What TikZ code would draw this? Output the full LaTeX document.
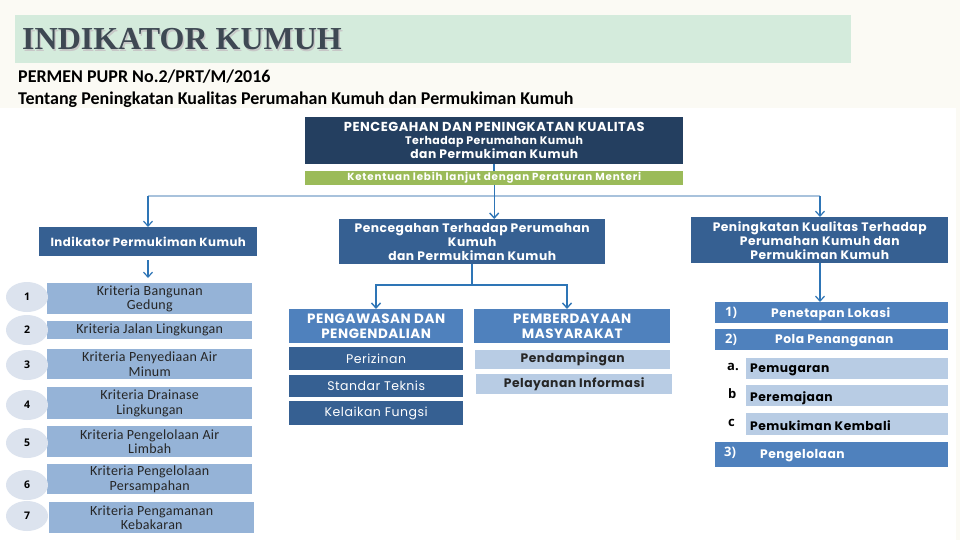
\documentclass[tikz,border=0pt]{standalone}
\usepackage{fontspec}
\usetikzlibrary{arrows.meta,positioning,shapes.geometric}
\setmainfont{Carlito}
\newfontfamily\critfont[LetterSpace=2]{Carlito}
\newfontfamily\boxfont[LetterSpace=4]{Poppins}
\newfontfamily\greenfont[LetterSpace=8]{Poppins}
\newfontfamily\plainfont[LetterSpace=4]{Poppins}
\newfontfamily\lblfont{Open Sans}
\newfontfamily\titlefont{Liberation Serif}
\definecolor{navy}{HTML}{243F60}
\definecolor{midblue}{HTML}{366092}
\definecolor{accblue}{HTML}{4F81BD}
\definecolor{lightblue}{HTML}{B8CCE4}
\definecolor{critblue}{HTML}{95B3D7}
\definecolor{greenbar}{HTML}{9BBB59}
\definecolor{titlegreen}{HTML}{D4EBDC}
\definecolor{cream}{HTML}{FBFAF4}
\definecolor{numfill}{HTML}{DCE3EE}
\definecolor{linkblue}{HTML}{2E75B6}
\definecolor{hline}{HTML}{A8C2DC}
\definecolor{titletext}{HTML}{3E4853}
\tikzset{
  rbox/.style={anchor=north west, inner sep=0pt, align=center, text=white,
    font=\boxfont\bfseries\fontsize{12.3}{14}\selectfont},
  navybox/.style={rbox, fill=navy},
  midbox/.style={rbox, fill=midblue},
  accbox/.style={rbox, fill=accblue},
  capsbox/.style={accbox, font=\boxfont\bfseries\fontsize{13.5}{15}\selectfont},
  litebox/.style={rbox, fill=lightblue, text=black!85},
  plainbox/.style={midbox, font=\plainfont\fontsize{12.5}{13}\selectfont},
  critbox/.style={anchor=north west, inner sep=0pt, align=center, fill=critblue,
    text=black!85, font=\critfont\fontsize{14}{14.5}\selectfont},
  numell/.style={ellipse, fill=numfill, minimum width=42pt, minimum height=30pt,
    inner sep=0pt, font=\lblfont\bfseries\fontsize{10.5}{12}\selectfont},
  lbl/.style={anchor=west, inner sep=0pt, font=\boxfont\bfseries\fontsize{12.3}{12}\selectfont},
  itemmark/.style={anchor=west, inner sep=0pt, font=\lblfont\bfseries\fontsize{13}{14}\selectfont},
  link/.style={draw=linkblue, line width=1.8pt},
  arr/.style={draw=linkblue, line width=1.4pt, -{Straight Barb[length=5pt,width=9pt]}},
}
\begin{document}
\begin{tikzpicture}[x=1pt,y=-1pt]
\useasboundingbox (0,0) rectangle (960,540);
\fill[cream] (0,0) rectangle (960,540);
\fill[white] (0,108) rectangle (956,540);
% title
\fill[titlegreen] (15,15) rectangle (851,63);
\node[anchor=base west, inner sep=0pt, text=black!22, font=\titlefont\bfseries\fontsize{32}{34}\selectfont] (titleshadow) at (23.3,51.3) {INDIKATOR KUMUH};
\node[anchor=base west, inner sep=0pt, text=titletext, font=\titlefont\bfseries\fontsize{32}{34}\selectfont] (title) at (22,50) {INDIKATOR KUMUH};
\node[anchor=base west, inner sep=0pt, font=\bfseries\fontsize{18}{18}\selectfont] (sub1) at (18,83) {PERMEN PUPR No.2/PRT/M/2016};
\node[anchor=base west, inner sep=0pt, font=\bfseries\fontsize{18}{19}\selectfont] (sub2) at (18,105) {Tentang Peningkatan Kualitas Perumahan Kumuh dan Permukiman Kumuh};

% top
\node[navybox, minimum width=378pt, minimum height=47pt] (top) at (305,117)
  {\fontsize{13}{13}\selectfont PENCEGAHAN DAN PENINGKATAN KUALITAS\\[-1pt]
   \fontsize{11}{13.5}\selectfont Terhadap Perumahan Kumuh\\dan Permukiman Kumuh};
\node[rbox, fill=greenbar, minimum width=378pt, minimum height=14pt, font=\greenfont\bfseries\fontsize{10.3}{10}\selectfont] (green) at (305,171)
  {Ketentuan lebih lanjut dengan Peraturan Menteri};

% level 2
\node[midbox, minimum width=218pt, minimum height=29pt, font=\boxfont\bfseries\fontsize{11.8}{14}\selectfont] (ind) at (39,227) {Indikator Permukiman Kumuh};
\node[midbox, minimum width=266pt, minimum height=45pt] (pen) at (339,219)
  {Pencegahan Terhadap Perumahan\\Kumuh\\dan Permukiman Kumuh};
\node[midbox, minimum width=257pt, minimum height=46pt] (pkt) at (691,217)
  {Peningkatan Kualitas Terhadap\\Perumahan Kumuh dan\\Permukiman Kumuh};

% connectors from top
\coordinate (hl) at (148,196);
\coordinate (hr) at (820,196);
\draw[draw=hline, line width=1.6pt] (hl) -- (hr);
\draw[link] (top.south) -- (green.north);
\draw[arr] (green.south) -- (green.south |- pen.north);
\draw[arr, line width=1.2pt] (hl) -- (ind.north -| hl);
\draw[arr, line width=1.2pt] (hr) -- (pkt.north -| hr);

% criteria
\node[critbox, minimum width=205pt, minimum height=31pt] (c1) at (47,283) {Kriteria Bangunan\\Gedung};
\node[critbox, minimum width=205pt, minimum height=18pt] (c2) at (47,321) {Kriteria Jalan Lingkungan};
\node[critbox, minimum width=205pt, minimum height=30pt] (c3) at (47,349) {Kriteria Penyediaan Air\\Minum};
\node[critbox, minimum width=205pt, minimum height=32pt] (c4) at (47,387) {Kriteria Drainase\\Lingkungan};
\node[critbox, minimum width=205pt, minimum height=31pt] (c5) at (47,426) {Kriteria Pengelolaan Air\\Limbah};
\node[critbox, minimum width=205pt, minimum height=30pt] (c6) at (47,464) {Kriteria Pengelolaan\\Persampahan};
\node[critbox, minimum width=205pt, minimum height=31pt] (c7) at (49,502) {Kriteria Pengamanan\\Kebakaran};
\coordinate (ia) at (148,260);
\coordinate (ib) at (148,278);
\draw[arr, line width=1.2pt] (ia) -- (ib);
\node[numell] (n1) at (27,297) {1};
\node[numell] (n2) at (27,330) {2};
\node[numell] (n3) at (27,365) {3};
\node[numell] (n4) at (27,405) {4};
\node[numell] (n5) at (27,443) {5};
\node[numell] (n6) at (27,485) {6};
\node[numell] (n7) at (27,516) {7};

% middle branch
\node[capsbox, minimum width=174pt, minimum height=34pt] (pengawasan) at (289,309) {PENGAWASAN DAN\\PENGENDALIAN};
\node[plainbox, minimum width=174pt, minimum height=23pt] (izin) at (289,347) {Perizinan};
\node[plainbox, minimum width=174pt, minimum height=22pt] (std) at (289,375) {Standar Teknis};
\node[plainbox, minimum width=174pt, minimum height=24pt] (laik) at (289,401) {Kelaikan Fungsi};
\node[capsbox, minimum width=196pt, minimum height=34pt] (pemb) at (474,309) {PEMBERDAYAAN\\MASYARAKAT};
\node[litebox, minimum width=195pt, minimum height=19pt] (damp) at (475,350) {Pendampingan};
\node[litebox, minimum width=196pt, minimum height=20pt] (layan) at (476,374) {Pelayanan Informasi};
\coordinate (mj) at (472,285);
\coordinate (mjl) at (376,285);
\coordinate (mjr) at (567,285);
\draw[link] (pen.south -| mj) -- (mj);
\draw[link] (mjl) -- (mjr);
\draw[arr] (mjl) ++(0,-0.9) -- (mjl |- pengawasan.north);
\draw[arr] (mjr) ++(0,-0.9) -- (mjr |- pemb.north);

% right branch
\node[accbox, minimum width=233pt, minimum height=21pt] (r1) at (715,302) {};
\node[accbox, minimum width=233pt, minimum height=21pt] (r2) at (715,329) {};
\node[litebox, minimum width=202pt, minimum height=21pt] (ra) at (746,358) {};
\node[litebox, minimum width=202pt, minimum height=21pt] (rb) at (746,385) {};
\node[litebox, minimum width=202pt, minimum height=22pt] (rc) at (746,413) {};
\node[accbox, minimum width=233pt, minimum height=25pt] (r3) at (715,442) {};
\node[itemmark, text=white] (l1) at (725,313) {1)};
\node[lbl, text=white] (t1) at (771,314) {Penetapan Lokasi};
\node[itemmark, text=white] (l2) at (725,340) {2)};
\node[lbl, text=white] (t2) at (775,341) {Pola Penanganan};
\node[itemmark] (la) at (727,367) {a.};
\node[lbl] (ta) at (750,370) {Pemugaran};
\node[itemmark] (lb) at (728,394) {b};
\node[lbl] (tb) at (750,398) {Peremajaan};
\node[itemmark] (lc) at (728,423) {c};
\node[lbl] (tc) at (750,426) {Pemukiman Kembali};
\node[itemmark, text=white] (l3) at (724,453) {3)};
\node[lbl, text=white] (t3) at (760,456) {Pengelolaan};
\draw[arr, line width=1.2pt] (pkt.south -| hr) -- (r1.north -| hr);
\end{tikzpicture}
\end{document}
